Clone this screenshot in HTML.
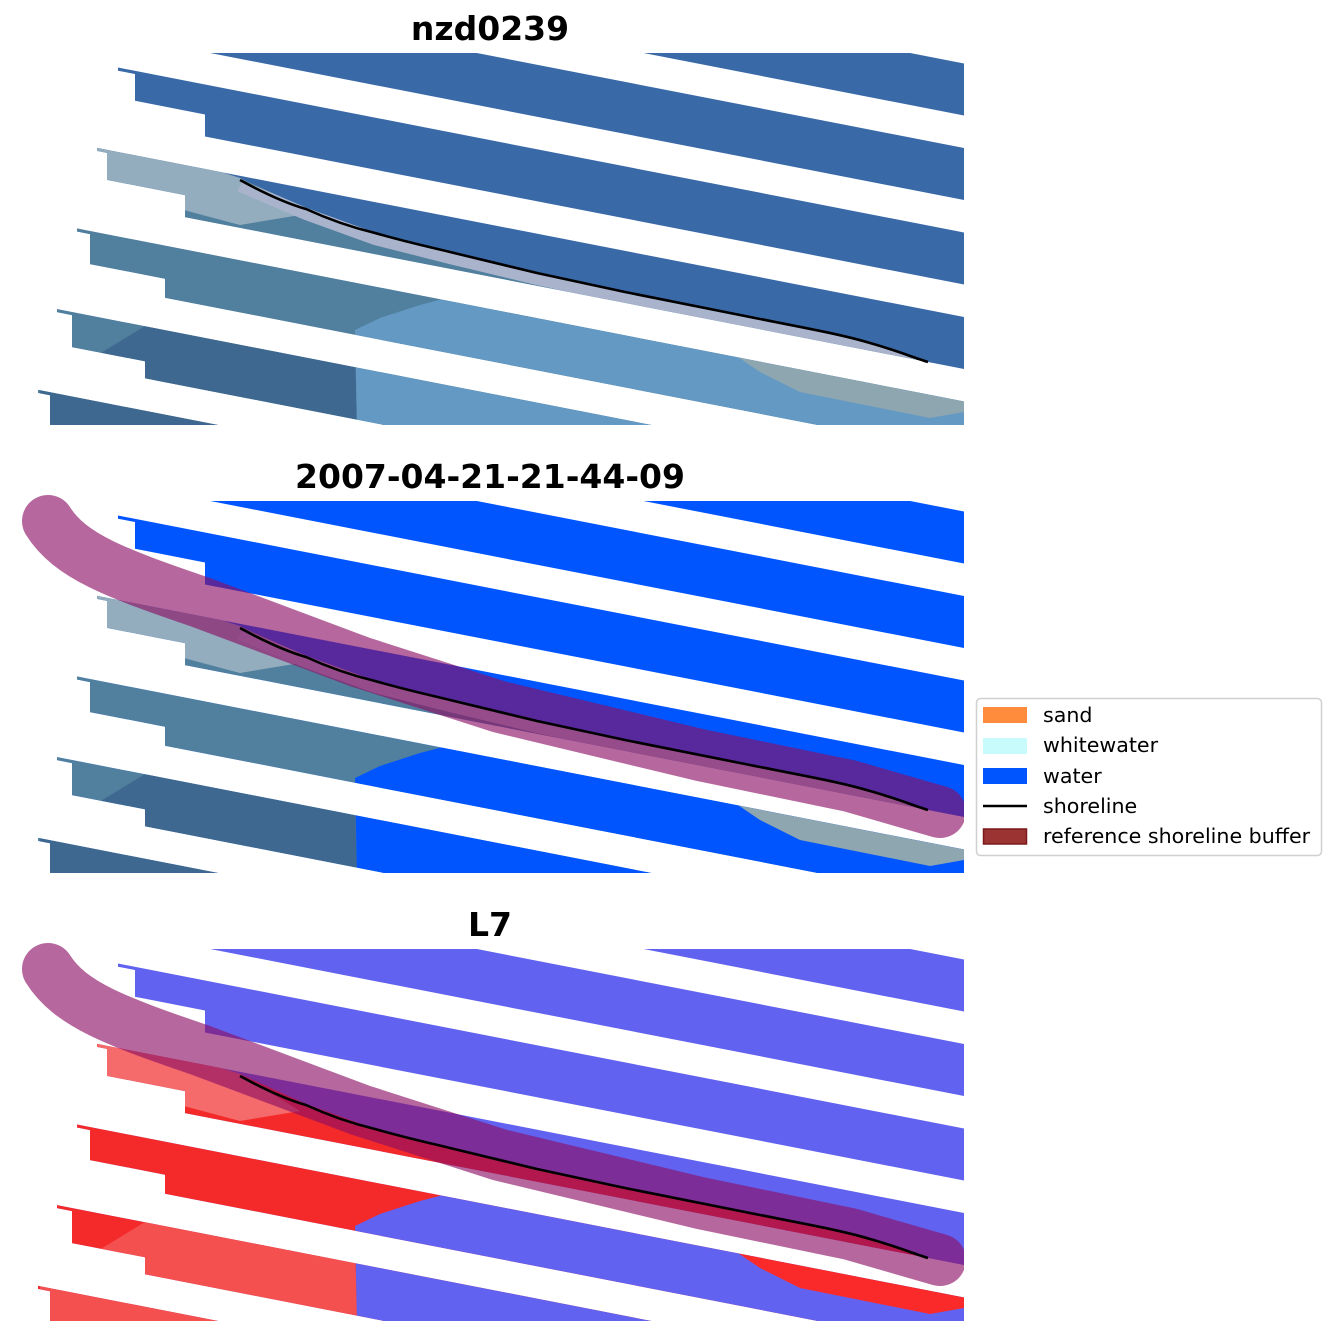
<!DOCTYPE html>
<html><head><meta charset="utf-8"><style>
html,body{margin:0;padding:0;background:#fff;}
svg{display:block;}
text{font-family:"DejaVu Sans","Liberation Sans",sans-serif;}
</style></head><body>
<svg width="1336" height="1337" viewBox="0 0 1336 1337" xmlns="http://www.w3.org/2000/svg">
<defs>
<clipPath id="st">
<polygon points="600,-7.5 964,63.5 964,115.5 600,44.5"/>
<polygon points="100,-20.5 964,148 964,200 100,31.5"/>
<polygon points="118,67.5 964,232.5 964,284.5 205,136.5 205,114.5 135,100.8 135,74 118,70.7"/>
<polygon points="97,147.9 964,317 964,369 185,217.1 185,195.1 107,179.9 107,152.9 97,150.9"/>
<polygon points="77,228.5 964,401.5 964,453.5 165,297.7 165,278.7 90,264.1 90,234.1 77,231.5"/>
<polygon points="57,309.1 964,486 964,538 145,378.3 145,361.3 72,347.1 72,315.1 57,312.1"/>
<polygon points="38,389.9 964,570.5 964,622.5 125,458.9 125,441.9 50,427.3 50,395.3 38,392.9"/>
</clipPath>
<clipPath id="rc"><rect x="0" y="53" width="964" height="372"/></clipPath>
<clipPath id="bc"><rect x="0" y="0" width="964" height="430"/></clipPath>
<g id="shore"><path d="M240,180 C262,192 285,203 306,209 C330,220 350,227 375,233 C410,243 430,247 450,252 L537,273 L625,292 L750,317 C800,327 840,334 870,343 C895,350 912,357 928,362" fill="none" stroke="#000" stroke-width="2.6"/></g>
<g id="buf"><path d="M48,73 C70,108 115,125 200,154 L360,214 L500,259 L700,307 L850,338 L940,364" fill="none" stroke="rgb(140,15,100)" stroke-opacity="0.63" stroke-width="52" stroke-linecap="round" stroke-linejoin="round" clip-path="url(#bc)"/></g>
</defs>

<text x="490" y="40" font-size="33" font-weight="bold" text-anchor="middle">nzd0239</text>
<text x="490" y="488" font-size="33" font-weight="bold" text-anchor="middle">2007-04-21-21-44-09</text>
<text x="490" y="936" font-size="33" font-weight="bold" text-anchor="middle">L7</text>

<!-- panel 1 -->
<g clip-path="url(#rc)"><g clip-path="url(#st)">
<rect x="0" y="0" width="970" height="430" fill="#3a69a8"/>
<polygon points="0,100 100,138 240,178 306,208 375,233 450,252 537,273 625,292 750,317 862,340 900,352 928,362 964,372 964,430 0,430" fill="#51809e"/>
<polygon points="90,130 240,178 300,215 240,225 90,185" fill="#93adbf"/>
<polygon points="40,390 145,326 355,340 357,430 40,430" fill="#3f6890"/>
<polyline points="240,186 306,214 375,239 450,258 537,279 625,298 750,323 862,346 900,358 928,368" fill="none" stroke="#a9b4cc" stroke-width="12"/>
<polygon points="357,430 355,330 380,318 420,305 470,292 600,315 800,355 964,388 964,430" fill="#6399c3"/>
<polygon points="735,355 964,400 964,412 930,418 800,392 760,372" fill="#8ea6b0"/>
</g></g>
<use href="#shore"/>

<!-- panel 2 -->
<g transform="translate(0,448)">
<g clip-path="url(#rc)"><g clip-path="url(#st)">
<rect x="0" y="0" width="970" height="430" fill="#0055ff"/>
<polygon points="0,100 100,138 240,178 306,208 375,233 450,252 537,273 625,292 750,317 862,340 900,352 928,362 964,372 964,430 0,430" fill="#51809e"/>
<polygon points="90,130 240,178 300,215 240,225 90,185" fill="#93adbf"/>
<polygon points="40,390 145,326 355,340 357,430 40,430" fill="#3f6890"/>
<polyline points="240,186 306,214 375,239 450,258 537,279 625,298 750,323 862,346 900,358 928,368" fill="none" stroke="#a9b4cc" stroke-width="12"/>
<polygon points="357,430 355,330 380,318 420,305 470,292 600,315 800,355 964,388 964,430" fill="#0055ff"/>
<polygon points="735,355 964,400 964,412 930,418 800,392 760,372" fill="#8ea6b0"/>
</g></g>
<use href="#buf"/>
<use href="#shore"/>
</g>

<!-- panel 3 -->
<g transform="translate(0,896)">
<g clip-path="url(#rc)"><g clip-path="url(#st)">
<rect x="0" y="0" width="970" height="430" fill="#6262f0"/>
<polygon points="0,100 100,138 240,178 306,208 375,233 450,252 537,273 625,292 750,317 862,340 900,352 928,362 964,372 964,430 0,430" fill="#f42a2a"/>
<polygon points="90,130 240,178 300,215 240,225 90,185" fill="#f56a6a"/>
<polygon points="40,390 145,326 355,340 357,430 40,430" fill="#f45050"/>
<polygon points="357,430 355,330 380,318 420,305 470,292 600,315 800,355 964,388 964,430" fill="#6262f0"/>
<polygon points="735,355 964,400 964,412 930,418 800,392 760,372" fill="#fa2a2a"/>
</g></g>
<use href="#buf"/>
<use href="#shore"/>
</g>

<rect x="976.5" y="698.5" width="345" height="157" rx="4" fill="#fff" stroke="#d0d0d0" stroke-width="1.5"/>
<rect x="983" y="707" width="44" height="16" fill="#ff8c3c"/>
<rect x="983" y="738" width="44" height="16" fill="#c8fcfc"/>
<rect x="983" y="768" width="44" height="16" fill="#0055ff"/>
<line x1="983" y1="806" x2="1027" y2="806" stroke="#000" stroke-width="2.6"/>
<rect x="983.5" y="829" width="43" height="15" fill="#9b3333" stroke="#7a1a1a" stroke-width="1.5"/>
<g font-size="20.6" fill="#000">
<text x="1043" y="722">sand</text>
<text x="1043" y="752">whitewater</text>
<text x="1043" y="783">water</text>
<text x="1043" y="813">shoreline</text>
<text x="1043" y="843">reference shoreline buffer</text>
</g>
</svg>
</body></html>
